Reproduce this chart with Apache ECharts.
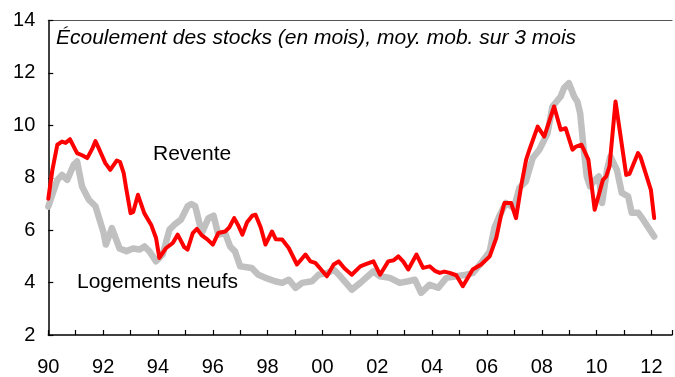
<!DOCTYPE html>
<html>
<head>
<meta charset="utf-8">
<script src="https://cdn.jsdelivr.net/npm/echarts@6/dist/echarts.min.js"></script>
<style>
  html, body { margin: 0; padding: 0; background: #fff; }
  #chart { width: 675px; height: 377px; }
</style>
</head>
<body>
<div id="chart"></div>
<script>
// Écoulement des stocks (en mois), moyenne mobile sur 3 mois
const reventeDates = [
  1990.0, 1990.15, 1990.33, 1990.5, 1990.63, 1990.79, 1991.05, 1991.25, 1991.42, 1991.6,
  1991.72, 1991.85, 1992.08, 1992.26, 1992.5, 1992.62, 1992.75, 1992.84, 1993.0, 1993.1,
  1993.27, 1993.5, 1993.75, 1993.93, 1994.05, 1994.3, 1994.54, 1994.72, 1994.96, 1995.08,
  1995.27, 1995.42, 1995.6, 1995.8, 1996.0, 1996.2, 1996.45, 1996.6, 1996.78, 1996.92,
  1997.08, 1997.25, 1997.44, 1997.56, 1997.75, 1997.92, 1998.16, 1998.3, 1998.53, 1998.77,
  1999.07, 1999.38, 1999.56, 1999.74, 1999.95, 2000.16, 2000.41, 2000.59, 2000.8, 2001.07,
  2001.38, 2001.56, 2001.86, 2002.1, 2002.4, 2002.6, 2002.77, 2002.95, 2003.13, 2003.43,
  2003.67, 2003.91, 2004.1, 2004.28, 2004.45, 2004.64, 2004.88, 2005.12, 2005.48, 2005.79,
  2006.1, 2006.34, 2006.5, 2006.64, 2006.88, 2007.06, 2007.25, 2007.43, 2007.55, 2007.85,
  2008.09, 2008.45, 2008.69, 2008.87, 2009.12, 2009.25, 2009.45, 2009.7, 2009.93, 2010.23,
  2010.35, 2010.47, 2010.69, 2011.08, 2011.2, 2011.51, 2011.6, 2011.98, 2012.1
];
const reventeValues = [
  7.2, 8.3, 9.26, 9.38, 9.33, 9.47, 8.94, 8.85, 8.75, 9.1,
  9.4, 9.1, 8.56, 8.3, 8.66, 8.6, 8.18, 7.6, 6.65, 6.7,
  7.35, 6.65, 6.21, 5.7, 4.94, 5.32, 5.51, 5.83, 5.35, 5.26,
  5.89, 6.05, 5.8, 5.65, 5.45, 5.89, 5.95, 6.1, 6.46, 6.2,
  5.83, 6.3, 6.55, 6.59, 6.1, 5.45, 5.95, 5.65, 5.64, 5.32,
  4.69, 5.07, 4.81, 4.75, 4.5, 4.24, 4.69, 4.81, 4.55, 4.3,
  4.62, 4.69, 4.81, 4.3, 4.81, 4.85, 5.0, 4.8, 4.5, 5.07,
  4.56, 4.62, 4.45, 4.37, 4.42, 4.37, 4.28, 3.86, 4.5, 4.69,
  5.0, 5.7, 6.5, 7.04, 7.04, 6.46, 7.7, 8.69, 9.07, 9.95,
  9.57, 10.72, 9.83, 9.89, 9.07, 9.19, 9.26, 8.69, 6.78, 7.92,
  8.05, 8.43, 10.91, 8.11, 8.15, 8.94, 8.8, 7.54, 6.46
];

const neufsDates = [
  1990.0, 1990.33, 1990.5, 1990.69, 1990.93, 1991.05, 1991.23, 1991.48, 1991.72, 1992.02,
  1992.1, 1992.32, 1992.6, 1992.85, 1993.09, 1993.33, 1993.51, 1993.69, 1993.93, 1994.17,
  1994.42, 1994.6, 1994.84, 1995.08, 1995.22, 1995.36, 1995.6, 1995.84, 1996.03, 1996.2,
  1996.45, 1996.63, 1996.81, 1997.0, 1997.42, 1997.66, 1998.0, 1998.27, 1998.53, 1998.77,
  1999.02, 1999.26, 1999.62, 1999.86, 2000.2, 2000.41, 2000.65, 2001.07, 2001.38, 2001.86,
  2002.1, 2002.46, 2002.82, 2003.13, 2003.37, 2003.6, 2003.91, 2004.22, 2004.52, 2004.88,
  2005.25, 2005.49, 2005.79, 2006.1, 2006.27, 2006.45, 2006.69, 2006.99, 2007.18, 2007.42,
  2007.67, 2007.91, 2008.21, 2008.39, 2008.69, 2008.81, 2008.99, 2009.18, 2009.3, 2009.4,
  2009.52, 2009.64, 2009.76, 2009.94, 2010.08, 2010.2, 2010.38, 2010.5, 2010.74, 2010.92,
  2011.15, 2011.28, 2011.52, 2011.7, 2012.1
];
const neufsValues = [
  6.9, 7.92, 8.11, 7.92, 8.5, 8.62, 7.67, 7.16, 6.91, 5.89,
  5.45, 6.08, 5.3, 5.2, 5.3, 5.26, 5.38, 5.19, 4.81, 5.07,
  6.02, 6.21, 6.4, 6.91, 7.0, 6.91, 5.89, 6.46, 6.55, 5.83,
  5.89, 5.38, 5.19, 4.62, 4.56, 4.3, 4.15, 4.05, 3.99, 4.11,
  3.8, 3.99, 4.05, 4.3, 4.37, 4.5, 4.24, 3.73, 3.99, 4.43,
  4.24, 4.18, 3.99, 4.05, 4.11, 3.61, 3.92, 3.8, 4.18, 4.24,
  4.3, 4.37, 4.75, 5.19, 6.08, 6.53, 7.04, 6.85, 7.61, 7.86,
  8.75, 9.07, 9.7, 10.72, 11.1, 11.42, 11.61, 11.1, 10.9, 10.46,
  9.19, 8.05, 7.67, 7.92, 8.05, 7.04, 8.3, 8.81, 8.3, 7.42,
  7.29, 6.66, 6.66, 6.4, 5.76
];

const yearTicks = [1990, 1992, 1994, 1996, 1998, 2000, 2002, 2004, 2006, 2008, 2010, 2012];
const titleText = 'Écoulement des stocks (en mois), moy. mob. sur 3 mois';
const reventeLabel = 'Revente';
const neufsLabel = 'Logements neufs';

const FONT = '"Liberation Sans", Arial, sans-serif';

function pairs(xs, ys) {
  return xs.map((x, i) => [x, ys[i]]);
}

const chart = echarts.init(document.getElementById('chart'), null, { renderer: 'canvas' });

const xMin = 1990;
const xMax = 2012.75;

chart.setOption({
  animation: false,
  backgroundColor: '#ffffff',
  grid: { left: 48.3, right: 0, top: 20.5, bottom: 41.5, containLabel: false },
  xAxis: [
    {
      type: 'value',
      min: xMin,
      max: xMax,
      interval: 1,
      axisLine: { show: true, lineStyle: { color: '#000', width: 1.5 } },
      axisTick: {
        show: true, inside: true, length: 5,
        lineStyle: { color: '#000', width: 1.2 }
      },
      splitLine: { show: false },
      axisLabel: {
        margin: 22,
        color: '#000',
        fontSize: 20,
        fontFamily: FONT,
        formatter: v => yearTicks.includes(v) ? String(v % 100).padStart(2, '0') : ''
      }
    },
    {
      type: 'value',
      position: 'top',
      min: xMin,
      max: xMax,
      axisLine: { show: true, lineStyle: { color: '#555', width: 1.2 } },
      axisTick: { show: false },
      axisLabel: { show: false },
      splitLine: { show: false }
    }
  ],
  yAxis: {
    type: 'value',
    min: 2,
    max: 14,
    interval: 2,
    axisLine: { show: true, lineStyle: { color: '#000', width: 1.5 } },
    axisTick: { show: true, inside: true, length: 5, lineStyle: { color: '#000', width: 1.2 } },
    splitLine: { show: false },
    axisLabel: { margin: 13, color: '#000', fontSize: 20, fontFamily: FONT }
  },
  series: [
    {
      name: neufsLabel,
      type: 'line',
      xAxisIndex: 0,
      data: pairs(neufsDates, neufsValues),
      showSymbol: false,
      smooth: false,
      lineStyle: { color: '#c0c0c0', width: 6.5, cap: 'round', join: 'round' },
      z: 2
    },
    {
      name: reventeLabel,
      type: 'line',
      xAxisIndex: 0,
      data: pairs(reventeDates, reventeValues),
      showSymbol: false,
      smooth: false,
      lineStyle: { color: '#ff0000', width: 4, cap: 'round', join: 'round' },
      z: 3
    }
  ],
  graphic: [
    {
      type: 'text', left: 56, top: 28, z: 10,
      style: { text: titleText, fill: '#000', font: 'italic 21px ' + FONT }
    },
    {
      type: 'text', left: 153, top: 144, z: 10,
      style: { text: reventeLabel, fill: '#000', font: '21px ' + FONT }
    },
    {
      type: 'text', left: 77, top: 272, z: 10,
      style: { text: neufsLabel, fill: '#000', font: '21px ' + FONT }
    }
  ]
});
</script>
</body>
</html>
